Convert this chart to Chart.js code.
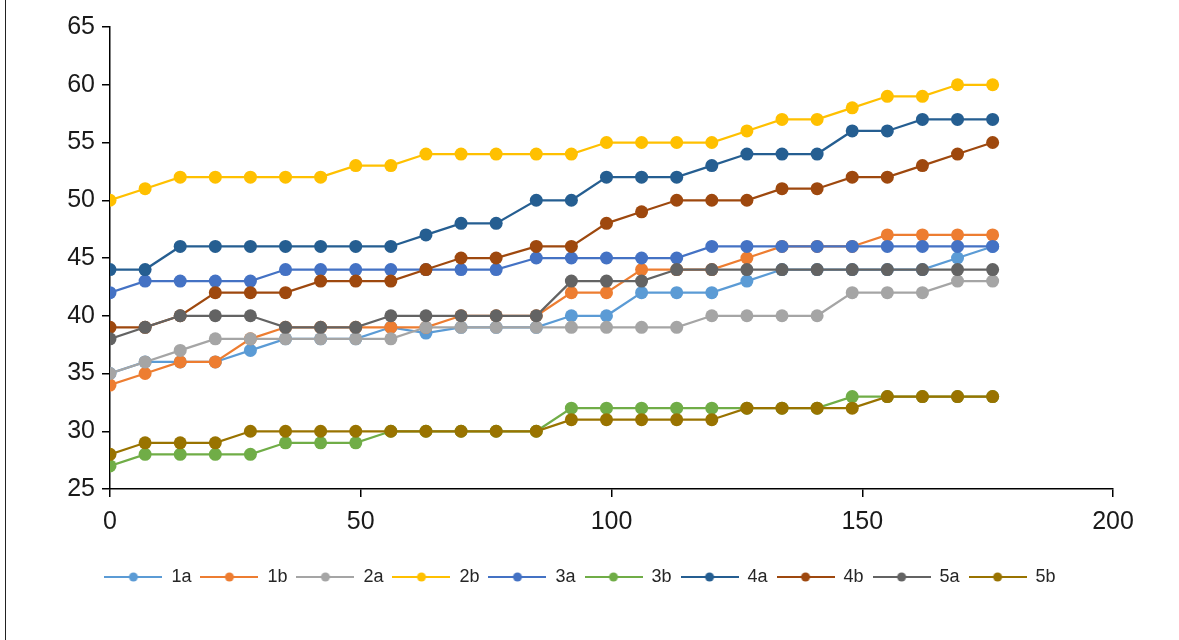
<!DOCTYPE html>
<html>
<head>
<meta charset="utf-8">
<script src="https://cdn.jsdelivr.net/npm/chart.js@4.4.1/dist/chart.umd.min.js"></script>
<style>
  html, body { margin: 0; padding: 0; background: #fff; }
  #wrap { position: relative; width: 1179px; height: 640px; }
  #edge { position: absolute; left: 5px; top: 0; width: 1px; height: 640px; background: #222; }
</style>
</head>
<body>
<div id="wrap">
  <canvas id="chart" width="1179" height="640"></canvas>
  <div id="edge"></div>
</div>
<script>
// --- data ---
const xs = [0, 7, 14, 21, 28, 35, 42, 49, 56, 63, 70, 77, 85, 92, 99, 106, 113, 120, 127, 134, 141, 148, 155, 162, 169, 176];

const s1a = [35, 36, 36, 36, 37, 38, 38, 38, 39, 38.5, 39, 39, 39, 40, 40, 42, 42, 42, 43, 44, 44, 44, 44, 44, 45, 46];
const s1b = [34, 35, 36, 36, 38, 39, 39, 39, 39, 39, 40, 40, 40, 42, 42, 44, 44, 44, 45, 46, 46, 46, 47, 47, 47, 47];
const s2a = [35, 36, 37, 38, 38, 38, 38, 38, 38, 39, 39, 39, 39, 39, 39, 39, 39, 40, 40, 40, 40, 42, 42, 42, 43, 43];
const s2b = [50, 51, 52, 52, 52, 52, 52, 53, 53, 54, 54, 54, 54, 54, 55, 55, 55, 55, 56, 57, 57, 58, 59, 59, 60, 60];
const s3a = [42, 43, 43, 43, 43, 44, 44, 44, 44, 44, 44, 44, 45, 45, 45, 45, 45, 46, 46, 46, 46, 46, 46, 46, 46, 46];
const s3b = [27, 28, 28, 28, 28, 29, 29, 29, 30, 30, 30, 30, 30, 32, 32, 32, 32, 32, 32, 32, 32, 33, 33, 33, 33, 33];
const s4a = [44, 44, 46, 46, 46, 46, 46, 46, 46, 47, 48, 48, 50, 50, 52, 52, 52, 53, 54, 54, 54, 56, 56, 57, 57, 57];
const s4b = [39, 39, 40, 42, 42, 42, 43, 43, 43, 44, 45, 45, 46, 46, 48, 49, 50, 50, 50, 51, 51, 52, 52, 53, 54, 55];
const s5a = [38, 39, 40, 40, 40, 39, 39, 39, 40, 40, 40, 40, 40, 43, 43, 43, 44, 44, 44, 44, 44, 44, 44, 44, 44, 44];
const s5b = [28, 29, 29, 29, 30, 30, 30, 30, 30, 30, 30, 30, 30, 31, 31, 31, 31, 31, 32, 32, 32, 32, 33, 33, 33, 33];

const seriesNames = ['1a', '1b', '2a', '2b', '3a', '3b', '4a', '4b', '5a', '5b'];
const seriesData = [s1a, s1b, s2a, s2b, s3a, s3b, s4a, s4b, s5a, s5b];
const seriesColors = ['#5B9BD5', '#ED7D31', '#A5A5A5', '#FFC000', '#4472C4', '#70AD47', '#255E91', '#9E480E', '#636363', '#997300'];

const xTicks = [0, 50, 100, 150, 200];
const yTicks = [25, 30, 35, 40, 45, 50, 55, 60, 65];

// legend sample: short line with a dot in the middle (excel style)
function legendIcon(color) {
    const c = document.createElement('canvas');
    c.width = 58;
    c.height = 12;
    const g = c.getContext('2d');
    g.strokeStyle = color;
    g.lineWidth = 2;
    g.beginPath();
    g.moveTo(0, 6);
    g.lineTo(58, 6);
    g.stroke();
    g.fillStyle = color;
    g.beginPath();
    g.arc(29, 6, 4.5, 0, Math.PI * 2);
    g.fill();
    return c;
}

const datasets = seriesNames.map((name, i) => ({
    label: name,
    data: xs.map((x, j) => ({ x: x, y: seriesData[i][j] })),
    borderColor: seriesColors[i],
    backgroundColor: seriesColors[i],
    pointBackgroundColor: seriesColors[i],
    pointBorderColor: seriesColors[i],
    pointBorderWidth: 0,
    pointRadius: 6.5,
    borderWidth: 2.25,
    tension: 0,
    order: seriesNames.length - 1 - i   // later series drawn on top
}));

const font = 'Liberation Sans, Arial, sans-serif';

const ctx = document.getElementById('chart').getContext('2d');
new Chart(ctx, {
    type: 'line',
    data: { datasets: datasets },
    options: {
        responsive: false,
        animation: false,
        layout: { padding: { left: 47, right: 66, top: 27, bottom: 44 } },
        plugins: {
            tooltip: { enabled: false },
            legend: {
                position: 'bottom',
                labels: {
                    usePointStyle: true,
                    pointStyleWidth: 58,
                    padding: 9,
                    color: '#262626',
                    font: { family: font, size: 18 },
                    sort: (a, b) => a.datasetIndex - b.datasetIndex,
                    generateLabels: (chart) => {
                        const items = Chart.defaults.plugins.legend.labels.generateLabels(chart);
                        items.forEach(it => { it.pointStyle = legendIcon(seriesColors[it.datasetIndex]); });
                        return items;
                    }
                }
            }
        },
        scales: {
            x: {
                type: 'linear',
                min: 0,
                max: 200,
                afterBuildTicks: (scale) => { scale.ticks = xTicks.map(v => ({ value: v })); },
                afterFit: (scale) => { scale.height = 70; },
                grid: { drawOnChartArea: false, drawTicks: true, tickLength: 8, color: '#000', lineWidth: 1.5 },
                border: { display: true, color: '#000', width: 1.5 },
                ticks: {
                    padding: 10,
                    color: '#1a1a1a',
                    font: { family: font, size: 25 }
                }
            },
            y: {
                min: 25,
                max: 65,
                afterBuildTicks: (scale) => { scale.ticks = yTicks.map(v => ({ value: v })); },
                afterFit: (scale) => { scale.width = 63; },
                grid: { drawOnChartArea: false, drawTicks: true, tickLength: 8, color: '#000', lineWidth: 1.5 },
                border: { display: true, color: '#000', width: 1.5 },
                ticks: {
                    padding: 7,
                    color: '#1a1a1a',
                    font: { family: font, size: 25 }
                }
            }
        }
    }
});
</script>
</body>
</html>
